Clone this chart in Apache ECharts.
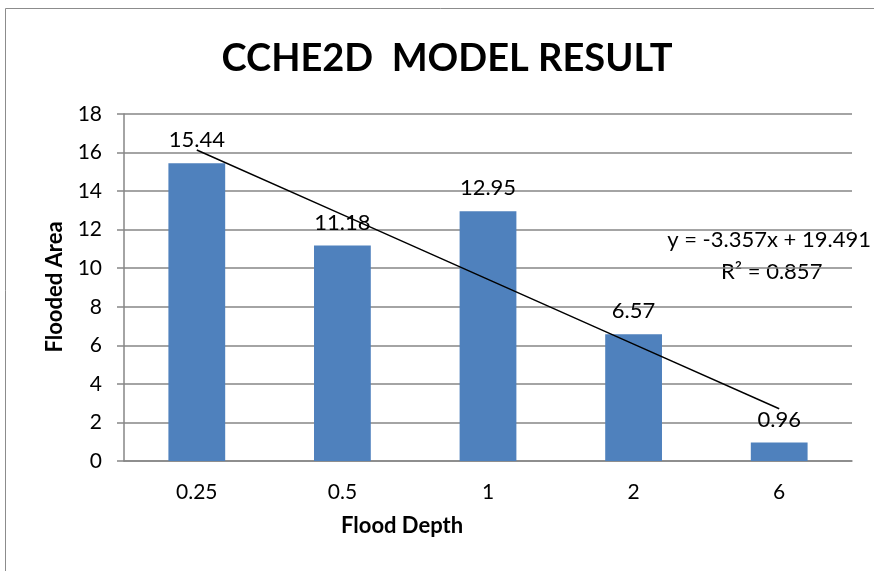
<!DOCTYPE html>
<html>
<head>
<meta charset="utf-8">
<script src="https://cdn.jsdelivr.net/npm/echarts@6/dist/echarts.min.js"></script>
<style>
  html, body { margin: 0; padding: 0; background: #fff; }
  #main { width: 874px; height: 571px; }
</style>
</head>
<body>
<div id="main"></div>
<script>
// flood depth categories and flooded area values
const depths = ['0.25', '0.5', '1', '2', '6']
const floodedArea = [15.44, 11.18, 12.95, 6.57, 0.96]
// linear trendline y = -3.357x + 19.491, read at each category
const trendValues = [16.13, 12.78, 9.42, 6.06, 2.71]
const yTicks = [0, 2, 4, 6, 8, 10, 12, 14, 16, 18]

const font = 'Lato, "Open Sans", sans-serif'
const chart = echarts.init(document.getElementById('main'))

chart.setOption({
  backgroundColor: '#fff',
  animation: false,
  title: {
    text: 'CCHE2D  MODEL RESULT',
    left: 442,
    textAlign: 'center',
    top: 35,
    textStyle: { fontFamily: font, fontSize: 38, fontWeight: 'bold', color: '#000' }
  },
  graphic: [
    {
      type: 'rect',
      shape: { x: 5.5, y: 8.5, width: 900, height: 600 },
      style: { fill: 'none', stroke: '#8c8c8c', lineWidth: 1 },
      silent: true
    },
    {
      type: 'text',
      right: 3,
      top: 229,
      style: { text: 'y = -3.357x + 19.491', fontFamily: font, fontSize: 22, fill: '#000' }
    },
    {
      type: 'text',
      left: 721,
      top: 261,
      style: { text: 'R² = 0.857', fontFamily: font, fontSize: 22, fill: '#000' }
    },
    {
      // x axis title sits left of the plot centre in the original
      type: 'text',
      left: 341,
      top: 515,
      style: { text: 'Flood Depth', fontFamily: font, fontSize: 22, fontWeight: 'bold', fill: '#000' }
    },
    {
      type: 'text',
      x: 55,
      y: 287,
      rotation: Math.PI / 2,
      style: {
        text: 'Flooded Area',
        fontFamily: font,
        fontSize: 22,
        fontWeight: 'bold',
        fill: '#000',
        align: 'center',
        verticalAlign: 'middle'
      }
    }
  ],
  grid: {
    left: 124,
    right: 22,
    top: 114,
    bottom: 110
  },
  xAxis: {
    type: 'category',
    data: depths,
    axisLine: { lineStyle: { color: '#868686', width: 1.5 } },
    axisTick: { show: false },
    axisLabel: { fontFamily: font, fontSize: 21, color: '#000', margin: 21 }
  },
  yAxis: {
    type: 'value',
    min: yTicks[0],
    max: yTicks[yTicks.length - 1],
    interval: 2,
    axisLine: { show: true, lineStyle: { color: '#868686', width: 1.5 } },
    axisTick: { show: true, length: 7, lineStyle: { color: '#868686', width: 1.5 } },
    splitLine: { lineStyle: { color: '#868686', width: 1.5 } },
    axisLabel: { fontFamily: font, fontSize: 21, color: '#000', margin: 22 }
  },
  series: [
    {
      name: 'Flooded Area',
      type: 'bar',
      data: floodedArea,
      barWidth: '39%',
      itemStyle: { color: '#4F81BD' },
      label: {
        show: true,
        position: 'top',
        distance: 12,
        fontFamily: font,
        fontSize: 22,
        color: '#000'
      }
    },
    {
      name: 'Trend',
      type: 'line',
      data: trendValues,
      symbol: 'none',
      lineStyle: { color: '#000', width: 1.5 },
      z: 5
    }
  ]
})
</script>
</body>
</html>
